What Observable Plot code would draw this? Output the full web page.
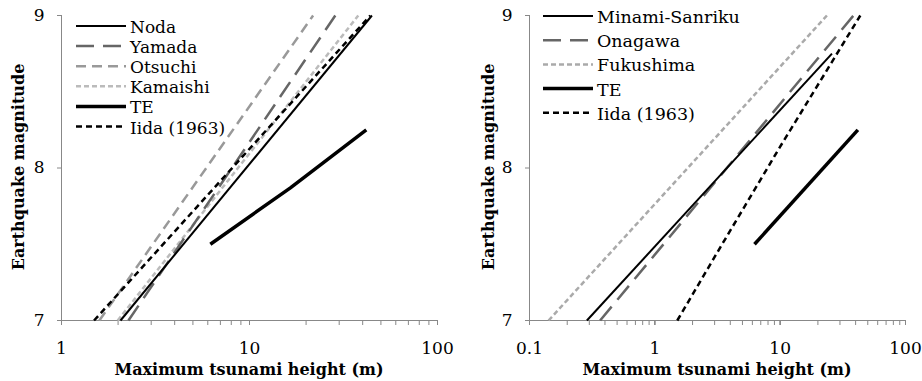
<!DOCTYPE html>
<html>
<head>
<meta charset="utf-8">
<script src="https://cdn.jsdelivr.net/npm/d3@7"></script>
<script src="https://cdn.jsdelivr.net/npm/@observablehq/plot@0.6"></script>
<style>
  html, body { margin: 0; padding: 0; background: #fff; }
  #wrap { position: relative; width: 922px; height: 381px; overflow: hidden; }
  #left, #right { position: absolute; top: 0; width: 461px; height: 381px; }
  #left { left: 0; } #right { left: 461px; }
</style>
</head>
<body>
<div id="wrap"><div id="left"></div><div id="right"></div></div>
<script>
// ---------- data ----------
const yTicks = [7, 8, 9];
const leftXTicks = [1, 10, 100];
const rightXTicks = [0.1, 1, 10, 100];
const xTitle = "Maximum tsunami height (m)";
const yTitle = "Earthquake magnitude";

// Left panel
const leftNames = ["Noda", "Yamada", "Otsuchi", "Kamaishi", "TE", "Iida (1963)"];
const nodaHeight = [2.06, 44.8],  nodaMag = [7, 9];
const yamadaHeight = [2.27, 28.6], yamadaMag = [7, 9];
const otsuchiHeight = [1.59, 21.8], otsuchiMag = [7, 9];
const kamaishiHeight = [1.99, 37.9], kamaishiMag = [7, 9];
const teLeftHeight = [6.19, 16.5, 41.8], teLeftMag = [7.5, 7.87, 8.25];
const iidaLeftHeight = [1.49, 43.9], iidaLeftMag = [7, 9];

// Right panel
const rightNames = ["Minami-Sanriku", "Onagawa", "Fukushima", "TE", "Iida (1963)"];
const minamiHeight = [0.287, 25.9], minamiMag = [7, 8.75];
const onagawaHeight = [0.366, 38.5], onagawaMag = [7, 9];
const fukushimaHeight = [0.142, 23.6], fukushimaMag = [7, 9];
const teRightHeight = [6.24, 41.7], teRightMag = [7.5, 8.25];
const iidaRightHeight = [1.51, 3.33, 10.0, 43.6], iidaRightMag = [7, 7.48, 8.14, 9];

// ---------- styles ----------
const styles = {
  "Noda":           {stroke: "#000", strokeWidth: 2,   dash: null},
  "Minami-Sanriku": {stroke: "#000", strokeWidth: 2,   dash: null},
  "Yamada":         {stroke: "#666", strokeWidth: 2.5, dash: "18,9"},
  "Onagawa":        {stroke: "#666", strokeWidth: 2.5, dash: "18,9"},
  "Otsuchi":        {stroke: "#999", strokeWidth: 2.5, dash: "10,6"},
  "Kamaishi":       {stroke: "#bbb", strokeWidth: 2.5, dash: "5,3"},
  "Fukushima":      {stroke: "#aaa", strokeWidth: 2.5, dash: "5,3"},
  "TE":             {stroke: "#000", strokeWidth: 3.5, dash: null},
  "Iida (1963)":    {stroke: "#000", strokeWidth: 2.5, dash: "6,4"}
};
const axisColor = "#888";
const FONT = "DejaVu Serif";

function rows(h, m) { return h.map((v, i) => ({h: v, m: m[i]})); }

function lineMark(name, h, m) {
  const s = styles[name];
  return Plot.line(rows(h, m), {
    x: "h", y: "m", stroke: s.stroke, strokeWidth: s.strokeWidth,
    strokeDasharray: s.dash ?? undefined, strokeLinecap: "butt"
  });
}

function panel(el, cfg) {
  const [xmin, xmax] = cfg.domain;
  const minor = [];
  for (let p = xmin; p < xmax; p *= 10) for (let k = 1; k <= 10; k++) minor.push(p * k);
  const chart = Plot.plot({
    width: 461, height: 381,
    marginLeft: cfg.ml, marginRight: cfg.mr, marginTop: 15, marginBottom: 61,
    style: {fontFamily: FONT, fontSize: "16px", color: "#000", background: "#fff", overflow: "visible"},
    x: {type: "log", domain: cfg.domain},
    y: {domain: [7, 9]},
    marks: [
      Plot.axisY({ticks: yTicks, tickSize: 4, tickPadding: 13, stroke: axisColor, fill: "#000",
                  tickFormat: d => String(d), label: null, fontSize: 17}),
      Plot.axisX({ticks: minor, tickSize: 5, tickFormat: () => "", stroke: axisColor, label: null}),
      Plot.axisX({ticks: cfg.xTicks, tickSize: 5, tickPadding: 16, stroke: axisColor, fill: "#000",
                  tickFormat: d => String(d), label: null, fontSize: 17}),
      Plot.ruleY([7], {stroke: axisColor}),
      Plot.ruleX([xmin], {stroke: axisColor}),
      ...cfg.series.map(s => lineMark(s[0], s[1], s[2]))
    ]
  });
  el.appendChild(chart);
  const svg = d3.select(chart);
  // axis titles
  svg.append("text").attr("x", cfg.ml + (461 - cfg.ml - cfg.mr) / 2).attr("y", 375)
    .attr("text-anchor", "middle").attr("font-family", FONT).attr("font-weight", "bold")
    .attr("font-size", 16).attr("fill", "#000").text(xTitle);
  svg.append("text").attr("transform", `translate(${cfg.yTitleX},167) rotate(-90)`)
    .attr("text-anchor", "middle").attr("dominant-baseline", "central")
    .attr("font-family", FONT).attr("font-weight", "bold")
    .attr("font-size", 16).attr("fill", "#000").text(yTitle);
  // legend
  const lg = svg.append("g");
  cfg.names.forEach((name, i) => {
    const s = styles[name];
    const y = cfg.legY0 + i * cfg.legDy;
    lg.append("line").attr("x1", cfg.legX).attr("x2", cfg.legX + 50).attr("y1", y).attr("y2", y)
      .attr("stroke", s.stroke).attr("stroke-width", s.strokeWidth)
      .attr("stroke-dasharray", s.dash);
    lg.append("text").attr("x", cfg.legX + 54).attr("y", y + 1).attr("dominant-baseline", "central")
      .attr("text-anchor", "start")
      .attr("font-family", FONT).attr("font-size", cfg.legFont).attr("fill", "#000").text(name);
  });
}

panel(document.getElementById("left"), {
  domain: [1, 100], xTicks: leftXTicks, ml: 61, mr: 24, yTitleX: 18,
  names: leftNames, legX: 76, legY0: 26, legDy: 20.1, legFont: 17,
  series: [
    ["Kamaishi", kamaishiHeight, kamaishiMag],
    ["Otsuchi", otsuchiHeight, otsuchiMag],
    ["Yamada", yamadaHeight, yamadaMag],
    ["Iida (1963)", iidaLeftHeight, iidaLeftMag],
    ["Noda", nodaHeight, nodaMag],
    ["TE", teLeftHeight, teLeftMag]
  ]
});

panel(document.getElementById("right"), {
  domain: [0.1, 100], xTicks: rightXTicks, ml: 68, mr: 17, yTitleX: 27,
  names: rightNames, legX: 82, legY0: 16, legDy: 24.2, legFont: 17.5,
  series: [
    ["Fukushima", fukushimaHeight, fukushimaMag],
    ["Onagawa", onagawaHeight, onagawaMag],
    ["Minami-Sanriku", minamiHeight, minamiMag],
    ["Iida (1963)", iidaRightHeight, iidaRightMag],
    ["TE", teRightHeight, teRightMag]
  ]
});
</script>
</body>
</html>
